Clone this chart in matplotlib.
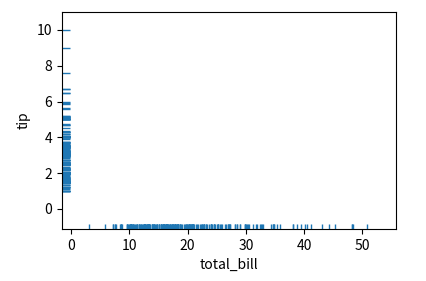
import matplotlib
matplotlib.use("Agg")
import matplotlib.pyplot as plt
import seaborn as sns

plt.rcParams['font.family'] = ['Noto Sans CJK KR', 'DejaVu Sans']

# tips: total_bill / tip
total_bill = [16.99, 10.34, 21.01, 23.68, 24.59, 25.29, 8.77, 26.88, 15.04, 14.78,
              10.27, 35.26, 15.42, 18.43, 14.83, 21.58, 10.33, 16.29, 16.97, 20.65,
              17.92, 20.29, 15.77, 39.42, 19.82, 17.81, 13.37, 12.69, 21.70, 19.65,
              9.55, 18.35, 15.06, 20.69, 17.78, 24.06, 16.31, 16.93, 18.69, 31.27,
              16.04, 17.46, 13.94, 9.68, 30.40, 18.29, 22.23, 32.40, 28.55, 18.04,
              12.54, 10.29, 34.81, 9.94, 25.56, 19.49, 38.01, 26.41, 11.24, 48.27,
              20.29, 13.81, 11.02, 18.29, 17.59, 20.08, 16.45, 3.07, 20.23, 15.01,
              12.02, 17.07, 26.86, 25.28, 14.73, 10.51, 17.92, 27.20, 22.76, 17.29,
              19.44, 16.66, 10.07, 32.68, 15.98, 34.83, 13.03, 18.28, 24.71, 21.16,
              28.97, 22.49, 5.75, 16.32, 22.75, 40.17, 27.28, 12.03, 21.01, 12.46,
              11.35, 15.38, 44.30, 22.42, 20.92, 15.36, 20.49, 25.21, 18.24, 14.31,
              14.00, 7.25, 38.07, 23.95, 25.71, 17.31, 29.93, 10.65, 12.43, 24.08,
              11.69, 13.42, 14.26, 15.95, 12.48, 29.80, 8.52, 14.52, 11.38, 22.82,
              19.08, 20.27, 11.17, 12.26, 18.26, 8.51, 10.33, 14.15, 16.00, 13.16,
              17.47, 34.30, 41.19, 27.05, 16.43, 8.35, 18.64, 11.87, 9.78, 7.51,
              14.07, 13.13, 17.26, 24.55, 19.77, 29.85, 48.17, 25.00, 13.39, 16.49,
              21.50, 12.66, 16.21, 13.81, 17.51, 24.52, 20.76, 31.71, 10.59, 10.63,
              50.81, 15.81, 7.25, 31.85, 16.82, 32.90, 17.89, 14.48, 9.60, 34.63,
              34.65, 23.33, 45.35, 23.17, 40.55, 20.69, 20.90, 30.46, 18.15, 23.10,
              15.69, 19.81, 28.44, 15.48, 16.58, 7.56, 10.34, 43.11, 13.00, 13.51,
              18.71, 12.74, 13.00, 16.40, 20.53, 16.47, 26.59, 38.73, 24.27, 12.76,
              30.06, 25.89, 48.33, 13.27, 28.17, 12.90, 28.15, 11.59, 7.74, 30.14,
              12.16, 13.42, 8.58, 15.98, 13.42, 16.27, 10.09, 20.45, 13.28, 22.12,
              24.01, 15.69, 11.61, 10.77, 15.53, 10.07, 12.60, 32.83, 35.83, 29.03,
              27.18, 22.67, 17.82, 18.78]
tip = [1.01, 1.66, 3.50, 3.31, 3.61, 4.71, 2.00, 3.12, 1.96, 3.23,
       1.71, 5.00, 1.57, 3.00, 3.02, 3.92, 1.67, 3.71, 3.50, 3.35,
       4.08, 2.75, 2.23, 7.58, 3.18, 2.34, 2.00, 2.00, 4.30, 3.00,
       1.45, 2.50, 3.00, 2.45, 3.27, 3.60, 2.00, 3.07, 2.31, 5.00,
       2.24, 2.54, 3.06, 1.32, 5.60, 3.00, 5.00, 6.00, 2.05, 3.00,
       2.50, 2.60, 5.20, 1.56, 4.34, 3.51, 3.00, 1.50, 1.76, 6.73,
       3.21, 2.00, 1.98, 3.76, 2.64, 3.15, 2.47, 1.00, 2.01, 2.09,
       1.97, 3.00, 3.14, 5.00, 2.20, 1.25, 3.08, 4.00, 3.00, 2.71,
       3.00, 3.40, 1.83, 5.00, 2.03, 5.17, 2.00, 4.00, 5.85, 3.00,
       3.00, 3.50, 1.00, 4.30, 3.25, 4.73, 4.00, 1.50, 3.00, 1.50,
       2.50, 3.00, 2.50, 3.48, 4.08, 1.64, 4.06, 4.29, 3.76, 4.00,
       3.00, 1.00, 4.00, 2.55, 4.00, 3.50, 5.07, 1.50, 1.80, 2.92,
       2.31, 1.68, 2.50, 2.00, 2.52, 4.20, 1.48, 2.00, 2.00, 2.18,
       1.50, 2.83, 1.50, 2.00, 3.25, 1.25, 2.00, 2.00, 2.00, 2.75,
       3.50, 6.70, 5.00, 5.00, 2.30, 1.50, 1.36, 1.63, 1.73, 2.00,
       2.50, 2.00, 2.74, 2.00, 2.00, 5.14, 5.00, 3.75, 2.61, 2.00,
       3.50, 2.50, 2.00, 2.00, 3.00, 3.48, 2.24, 4.50, 1.61, 2.00,
       10.00, 3.16, 5.15, 3.18, 4.00, 3.11, 2.00, 2.00, 4.00, 3.55,
       3.68, 5.65, 3.50, 6.50, 3.00, 5.00, 3.50, 2.00, 3.50, 4.00,
       1.50, 4.19, 2.56, 2.02, 4.00, 1.44, 2.00, 5.00, 2.00, 2.00,
       4.00, 2.01, 2.00, 2.50, 4.00, 3.23, 3.41, 3.00, 2.03, 2.23,
       2.00, 5.16, 9.00, 2.50, 6.50, 1.10, 3.00, 1.50, 1.44, 3.09,
       2.20, 3.48, 1.92, 3.00, 1.58, 2.50, 2.00, 3.00, 2.72, 2.88,
       2.00, 3.00, 3.39, 1.47, 3.00, 1.25, 1.00, 1.17, 4.67, 5.92,
       2.00, 2.00, 1.75, 3.00]

fig = plt.figure(figsize=(4.26, 2.81), dpi=100)
ax = fig.add_axes([0.145, 0.185, 0.785, 0.772])
sns.rugplot(x=total_bill, y=tip, ax=ax, color='#1f77b4')
ax.set_xlim(-1.6, 55.8)
ax.set_ylim(-1.12, 11.0)
ax.set_xticks([0, 10, 20, 30, 40, 50])
ax.set_yticks([0, 2, 4, 6, 8, 10])
ax.set_xlabel('total_bill')
ax.set_ylabel('tip')
fig.savefig('out.png', dpi=100)
